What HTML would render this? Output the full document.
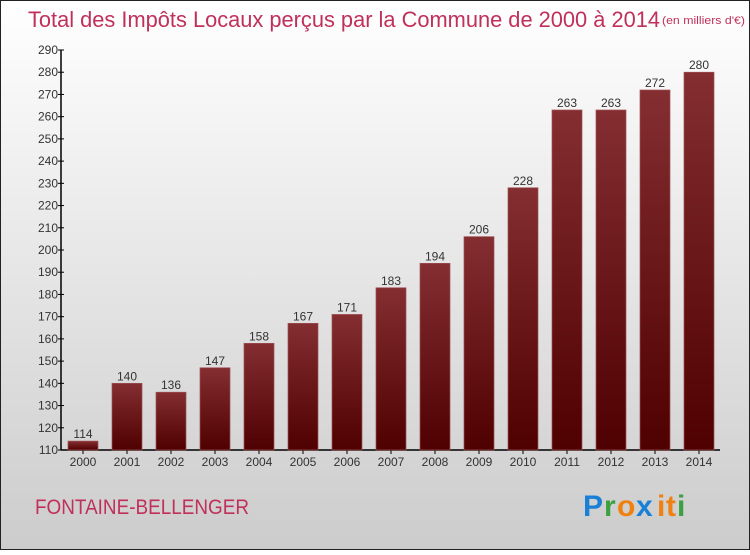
<!DOCTYPE html>
<html><head><meta charset="utf-8"><style>
body{margin:0;}
#c{width:750px;height:550px;position:relative;font-family:"Liberation Sans",sans-serif;}
</style></head><body>
<div id="c">
<svg id="s" width="750" height="550" xmlns="http://www.w3.org/2000/svg">
<defs>
<linearGradient id="bg" x1="0" y1="0" x2="0" y2="1"><stop offset="0" stop-color="#ffffff"/><stop offset="1" stop-color="#cccccc"/></linearGradient>
<linearGradient id="bar" x1="0" y1="0" x2="0" y2="1"><stop offset="0" stop-color="#842e32"/><stop offset="1" stop-color="#4f0000"/></linearGradient>
</defs>
<rect x="0.5" y="0.5" width="749" height="549" fill="url(#bg)" stroke="#222"/>
<text x="28" y="27" font-size="22" fill="#c0305a" textLength="632" lengthAdjust="spacingAndGlyphs">Total des Impôts Locaux perçus par la Commune de 2000 à 2014</text>
<text x="662" y="24" font-size="11" fill="#c0305a" textLength="83" lengthAdjust="spacingAndGlyphs">(en milliers d'€)</text>
<g id="ax"></g><g id="bars"></g>
<text x="35" y="514" font-size="21" fill="#c0305a" textLength="214" lengthAdjust="spacingAndGlyphs">FONTAINE-BELLENGER</text>
<g font-size="30" font-weight="bold" font-family="Liberation Sans,sans-serif">
<text x="583" y="516" fill="#1a7fd6">P</text><text x="604" y="516" fill="#3aa040">r</text><text x="617" y="516" fill="#f08010">o</text><text x="636" y="516" fill="#1a7fd6">x</text><text x="657" y="516" fill="#f08010">i</text><text x="666" y="516" fill="#f08010">t</text><text x="677" y="516" fill="#3aa040">i</text>
</g>
</svg></div>
<script>
const years=["2000","2001","2002","2003","2004","2005","2006","2007","2008","2009","2010","2011","2012","2013","2014"];
const values=[114,140,136,147,158,167,171,183,194,206,228,263,263,272,280];
const ticks=[110,120,130,140,150,160,170,180,190,200,210,220,230,240,250,260,270,280,290];
const NS="http://www.w3.org/2000/svg";
const y0=450,y1=50,vmin=110,vmax=290,x0=61,slot=44;
const Y=v=>y0-(v-vmin)/(vmax-vmin)*(y0-y1);
const X=i=>x0+i*slot;
function mk(t,a,p){const e=document.createElementNS(NS,t);for(const k in a)e.setAttribute(k,a[k]);p.appendChild(e);return e;}
const ax=document.getElementById('ax'),bg=document.getElementById('bars');
let l=mk('line',{x1:x0,y1:y1,x2:x0,y2:y0,stroke:'#000','stroke-width':1.5},ax);


l=mk('line',{x1:x0,y1:y0,x2:X(years.length)-1,y2:y0,stroke:'#000','stroke-width':1.5},ax);


ticks.forEach(t=>{
 mk('line',{x1:x0-3,x2:x0+3,y1:Y(t),y2:Y(t),stroke:'#000'},ax);
 const tx=mk('text',{x:x0-3,y:Y(t)+4,'font-size':12,'text-anchor':'end',fill:'#333'},ax);
 tx.textContent=t;
 
 
});
years.forEach((yr,i)=>{
 const cx=X(i)+slot/2;
 mk('line',{x1:cx,x2:cx,y1:y0,y2:y0+4,stroke:'#000'},ax);
 const tx=mk('text',{x:cx,y:y0+16,'font-size':12,'text-anchor':'middle',fill:'#333'},ax);
 tx.textContent=yr;
 
 
 const v=values[i];
 const r=mk('rect',{x:cx-15,y:Y(v),width:30,height:y0-Y(v),fill:'url(#bar)',stroke:'#a05055','stroke-width':0.7},bg);
 
 
 const lb=mk('text',{x:cx,y:Y(v)-3,'font-size':12,'text-anchor':'middle',fill:'#333'},bg);
 lb.textContent=v;
 
 
});
</script>
</body></html>
